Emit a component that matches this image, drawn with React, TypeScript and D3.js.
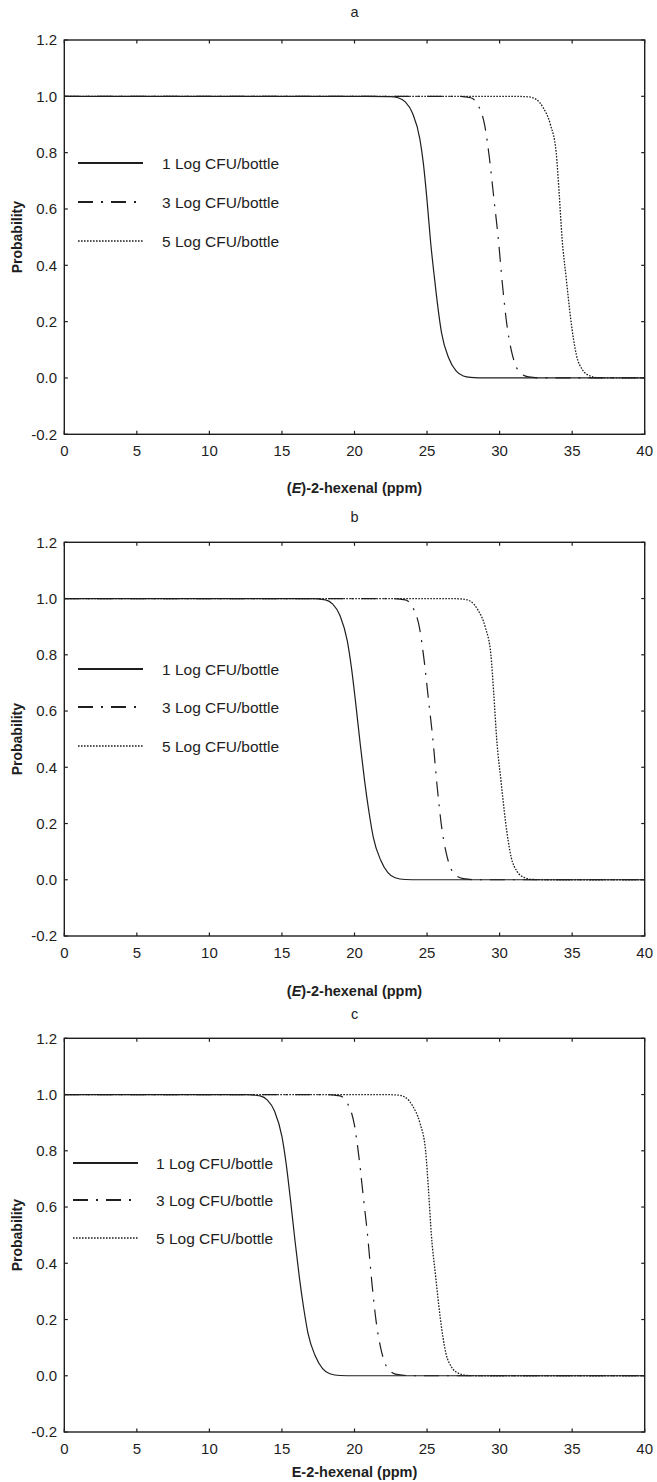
import React from "react";
import * as d3 from "d3";

// Probability of growth vs (E)-2-hexenal concentration, three inoculum levels, three panels.
type Pt = [number, number];

const panelTitles = ["a", "b", "c"];
const seriesNames = ["1 Log CFU/bottle", "3 Log CFU/bottle", "5 Log CFU/bottle"];
const xTicks = [0, 5, 10, 15, 20, 25, 30, 35, 40];
const yTicks = [-0.2, 0, 0.2, 0.4, 0.6, 0.8, 1.0, 1.2];

// Panel a
const aLog1: Pt[] = [[0, 1], [20, 1], [22.5, 0.999], [23, 0.995], [23.5, 0.98], [24, 0.94], [24.5, 0.85], [24.75, 0.76], [25, 0.63], [25.25, 0.48], [25.5, 0.36], [25.75, 0.25], [26, 0.16], [26.5, 0.07], [27, 0.025], [27.5, 0.007], [28, 0.002], [29, 0], [40, 0]];
const aLog3: Pt[] = [[0, 1], [27, 1], [28, 0.995], [28.5, 0.97], [29, 0.89], [29.3, 0.78], [29.6, 0.64], [29.9, 0.5], [30.2, 0.33], [30.5, 0.19], [30.8, 0.1], [31.1, 0.045], [31.5, 0.015], [32, 0.004], [33, 0], [40, 0]];
const aLog5: Pt[] = [[0, 1], [31, 1], [32, 0.998], [32.5, 0.99], [33, 0.96], [33.5, 0.9], [33.9, 0.8], [34.1, 0.66], [34.3, 0.5], [34.6, 0.35], [34.9, 0.21], [35.3, 0.08], [35.7, 0.03], [36.2, 0.008], [36.8, 0.001], [37.5, 0], [40, 0]];

// Panel b
const bLog1: Pt[] = [[0, 1], [17, 1], [18, 0.995], [18.5, 0.98], [19, 0.94], [19.5, 0.85], [19.8, 0.75], [20.1, 0.62], [20.4, 0.48], [20.7, 0.35], [21, 0.24], [21.3, 0.15], [21.8, 0.07], [22.3, 0.025], [22.8, 0.007], [23.5, 0.001], [24.5, 0], [40, 0]];
const bLog3: Pt[] = [[0, 1], [22.5, 1], [23.5, 0.995], [24, 0.97], [24.5, 0.89], [24.8, 0.78], [25.1, 0.64], [25.4, 0.5], [25.7, 0.33], [26, 0.19], [26.3, 0.1], [26.6, 0.045], [27, 0.015], [27.5, 0.004], [28.5, 0], [40, 0]];
const bLog5: Pt[] = [[0, 1], [26.5, 1], [27.5, 0.998], [28, 0.99], [28.5, 0.96], [29, 0.9], [29.4, 0.8], [29.6, 0.66], [29.8, 0.5], [30.1, 0.35], [30.4, 0.21], [30.8, 0.08], [31.2, 0.03], [31.7, 0.008], [32.3, 0.001], [33, 0], [40, 0]];

// Panel c
const cLog1: Pt[] = [[0, 1], [12.5, 1], [13.5, 0.995], [14, 0.98], [14.5, 0.94], [15, 0.85], [15.3, 0.75], [15.6, 0.62], [15.9, 0.48], [16.2, 0.35], [16.5, 0.24], [16.8, 0.15], [17.3, 0.07], [17.8, 0.025], [18.3, 0.007], [19, 0.001], [20, 0], [40, 0]];
const cLog3: Pt[] = [[0, 1], [18, 1], [19, 0.995], [19.5, 0.97], [20, 0.89], [20.3, 0.78], [20.6, 0.64], [20.9, 0.5], [21.2, 0.33], [21.5, 0.19], [21.8, 0.1], [22.1, 0.045], [22.5, 0.015], [23, 0.004], [24, 0], [40, 0]];
const cLog5: Pt[] = [[0, 1], [22, 1], [23, 0.998], [23.5, 0.99], [24, 0.96], [24.5, 0.9], [24.9, 0.8], [25.1, 0.66], [25.3, 0.5], [25.6, 0.35], [25.9, 0.21], [26.3, 0.08], [26.7, 0.03], [27.2, 0.008], [27.8, 0.001], [28.5, 0], [40, 0]];

const panelData: Pt[][][] = [
  [aLog1, aLog3, aLog5],
  [bLog1, bLog3, bLog5],
  [cLog1, cLog3, cLog5],
];

const W = 657;
const H = 1482;
const FONT = "'Liberation Sans', Arial, Helvetica, sans-serif";
const INK = "#1e1e1e";

const left = 64.3;
const right = 644.7;

interface PanelLayout {
  top: number;
  bottom: number;
  titleY: number;
  xLabelY: number;
  legendX0: number;
  legendX1: number;
  legendTextX: number;
  legendY: number[];
}

const layouts: PanelLayout[] = [
  { top: 40, bottom: 434.3, titleY: 17, xLabelY: 493, legendX0: 78, legendX1: 143, legendTextX: 162, legendY: [163, 202, 241] },
  { top: 542.3, bottom: 936, titleY: 522, xLabelY: 996, legendX0: 78, legendX1: 143, legendTextX: 162, legendY: [669, 707, 746] },
  { top: 1038.3, bottom: 1432, titleY: 1019, xLabelY: 1477, legendX0: 73, legendX1: 138, legendTextX: 156, legendY: [1163, 1200, 1238] },
];

const dashes = ["none", "15,8,2,8", "1.6,1.4"];
const legendWidths = [2.2, 2, 1.6];
const curveWidths = [1.2, 1.2, 1.3];

function XLabel({ idx, x, y }: { idx: number; x: number; y: number }) {
  if (idx < 2) {
    return (
      <text x={x} y={y} textAnchor="middle" fontFamily={FONT} fontSize={14.5} fontWeight="bold" fill={INK}>
        <tspan>(</tspan>
        <tspan fontStyle="italic">E</tspan>
        <tspan>)-2-hexenal (ppm)</tspan>
      </text>
    );
  }
  return (
    <text x={x} y={y} textAnchor="middle" fontFamily={FONT} fontSize={14.5} fontWeight="bold" fill={INK}>
      E-2-hexenal (ppm)
    </text>
  );
}

function Panel({ idx }: { idx: number }) {
  const L = layouts[idx];
  const x = d3.scaleLinear().domain([0, 40]).range([left, right]);
  const y = d3.scaleLinear().domain([-0.2, 1.2]).range([L.bottom, L.top]);
  const line = d3
    .line<Pt>()
    .x((d) => x(d[0]))
    .y((d) => y(d[1]))
    .curve(d3.curveMonotoneX);
  const tick = 3.5;
  const cx = (left + right) / 2;
  const cy = (L.top + L.bottom) / 2;
  return (
    <g>
      <text x={cx} y={L.titleY} textAnchor="middle" fontFamily={FONT} fontSize={14.5} fill={INK}>
        {panelTitles[idx]}
      </text>
      {panelData[idx].map((pts, s) => (
        <path
          key={s}
          d={line(pts) || ""}
          fill="none"
          stroke={INK}
          strokeWidth={curveWidths[s]}
          strokeDasharray={dashes[s]}
        />
      ))}
      <rect x={left} y={L.top} width={right - left} height={L.bottom - L.top} fill="none" stroke={INK} strokeWidth={1.4} />
      {xTicks.map((t) => (
        <g key={"x" + t}>
          <line x1={x(t)} x2={x(t)} y1={L.bottom} y2={L.bottom - tick} stroke={INK} strokeWidth={1.2} />
          <line x1={x(t)} x2={x(t)} y1={L.top} y2={L.top + tick} stroke={INK} strokeWidth={1.2} />
          <text x={x(t)} y={L.bottom + 22} textAnchor="middle" fontFamily={FONT} fontSize={15} fill={INK}>
            {t}
          </text>
        </g>
      ))}
      {yTicks.map((t) => (
        <g key={"y" + t}>
          <line x1={left} x2={left + tick} y1={y(t)} y2={y(t)} stroke={INK} strokeWidth={1.2} />
          <line x1={right} x2={right - tick} y1={y(t)} y2={y(t)} stroke={INK} strokeWidth={1.2} />
          <text x={57} y={y(t) + 5.3} textAnchor="end" fontFamily={FONT} fontSize={15} fill={INK}>
            {t.toFixed(1)}
          </text>
        </g>
      ))}
      <text
        transform={`translate(22,${cy}) rotate(-90)`}
        textAnchor="middle"
        fontFamily={FONT}
        fontSize={14}
        fontWeight="bold"
        fill={INK}
      >
        Probability
      </text>
      <XLabel idx={idx} x={cx} y={L.xLabelY} />
      {seriesNames.map((name, s) => (
        <g key={name}>
          <line
            x1={L.legendX0}
            x2={L.legendX1}
            y1={L.legendY[s]}
            y2={L.legendY[s]}
            stroke={INK}
            strokeWidth={legendWidths[s]}
            strokeDasharray={dashes[s]}
          />
          <text x={L.legendTextX} y={L.legendY[s] + 5.5} fontFamily={FONT} fontSize={15.5} fill={INK}>
            {name}
          </text>
        </g>
      ))}
    </g>
  );
}

export default function App() {
  return (
    <svg
      width={W}
      height={H}
      viewBox={`0 0 ${W} ${H}`}
      style={{ position: "absolute", left: 0, top: 0, background: "#fff" }}
    >
      <rect width={W} height={H} fill="#fff" />
      {[0, 1, 2].map((i) => (
        <Panel key={i} idx={i} />
      ))}
    </svg>
  );
}
